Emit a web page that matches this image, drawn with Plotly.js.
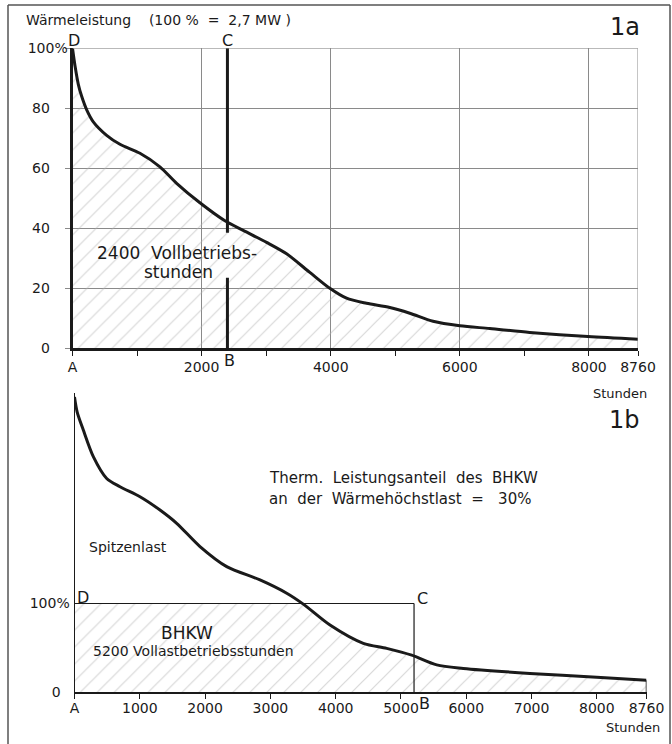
<!DOCTYPE html>
<html><head><meta charset="utf-8">
<script src="https://cdn.plot.ly/plotly-3.0.1.min.js"></script>
<style>html,body{margin:0;padding:0;background:#fff}#chart{width:672px;height:744px}</style>
</head><body><div id="chart"></div>
<script>
// Jahresdauerlinie der Wärmeleistung, % der Wärmehöchstlast (100 % = 2,7 MW)
// Bild 1a
const hours1a = [0, 40, 90, 142, 220, 322, 529, 735, 1045, 1354, 1613, 1974, 2361, 2644, 3006, 3316, 3676, 3986, 4245, 4554, 4915, 5225, 5585, 6000, 6463, 7082, 7985, 8760];
const load1a  = [100, 94, 88, 84, 79.5, 75.5, 71, 68, 65, 60.5, 55, 48.5, 42.5, 39.3, 35.3, 31.5, 25.3, 20, 16.7, 15, 13.6, 11.7, 9, 7.5, 6.6, 5.3, 3.9, 3.0];
// Bild 1b
const hours1b = [0, 40, 135, 288, 493, 697, 1003, 1309, 1565, 1922, 2331, 2841, 3250, 3504, 3913, 4423, 4781, 5164, 5547, 5954, 6975, 7997, 8760];
const load1b  = [100, 95, 88.8, 79.8, 72.4, 69.6, 66.2, 61.7, 57.2, 49.3, 42.5, 38, 33.5, 29.8, 22.7, 16.5, 14.8, 12.5, 9.2, 8, 6.3, 5, 4];

const fullLoadHours = 2400;   // Bild 1a: Vollbetriebsstunden
const bhkwShare = 30;         // Bild 1b: therm. Leistungsanteil des BHKW, % der Höchstlast
const bhkwHours = 5200;       // Bild 1b: Vollastbetriebsstunden

const xTicks1a = [0, 2000, 4000, 6000, 8000, 8760];
const xTickText1a = ['A', '2000', '4000', '6000', '8000', '8760'];
const yTicks1a = [0, 20, 40, 60, 80, 100];
const yTickText1a = ['0\u2007\u2007', '20\u2007\u2007', '40\u2007\u2007', '60\u2007\u2007', '80\u2007\u2007', '100%'];
const xTicks1b = [0, 1000, 2000, 3000, 4000, 5000, 6000, 7000, 8000, 8760];
const xTickText1b = ['A', '1000', '2000', '3000', '4000', '5000', '6000', '7000', '8000', '8760'];
const yTicks1b = [0, bhkwShare];
const yTickText1b = ['0\u2007', '100%'];

// hatched BHKW area in 1b: load clipped at the BHKW share
const clipX = [], clipY = [];
for (let i = 0; i < hours1b.length; i++) {
  if (i > 0) {
    const a = load1b[i-1] - bhkwShare, b = load1b[i] - bhkwShare;
    if (a * b < 0) {
      const t = a / (a - b);
      clipX.push(hours1b[i-1] + t * (hours1b[i] - hours1b[i-1]));
      clipY.push(bhkwShare);
    }
  }
  clipX.push(hours1b[i]);
  clipY.push(Math.min(load1b[i], bhkwShare));
}
const lastH = hours1b[hours1b.length-1], lastL = load1b[load1b.length-1];
const endH = hours1a[hours1a.length-1];

const W = 672, H = 744;
const px = x => x / W, py = y => 1 - y / H;
const FONT = 'DejaVu Sans';
const INK = '#1a1a1a';
const hatch = {shape: '/', size: 12, solidity: 0.1, fgcolor: '#b0b0b0', bgcolor: 'rgba(0,0,0,0)', fillmode: 'overlay'};

const traces = [
  {x: hours1a, y: load1a, xaxis: 'x', yaxis: 'y', mode: 'lines', fill: 'tozeroy', fillcolor: 'rgba(0,0,0,0)',
   fillpattern: hatch, line: {color: INK, width: 3, shape: 'spline', smoothing: 0.8}, hoverinfo: 'skip'},
  {x: clipX, y: clipY, xaxis: 'x2', yaxis: 'y2', mode: 'lines', fill: 'tozeroy', fillcolor: 'rgba(0,0,0,0)',
   fillpattern: hatch, line: {width: 0, color: 'rgba(0,0,0,0)'}, hoverinfo: 'skip'},
  {x: hours1b, y: load1b, xaxis: 'x2', yaxis: 'y2', mode: 'lines',
   line: {color: INK, width: 3, shape: 'spline', smoothing: 0.8}, hoverinfo: 'skip'},
  {x: [lastH, lastH], y: [0, lastL], xaxis: 'x2', yaxis: 'y2', mode: 'lines',
   line: {color: INK, width: 1.5}, hoverinfo: 'skip'}
];

function ann(text, x, y, size, opts) {
  return Object.assign({text: text, x: px(x), y: py(y), xref: 'paper', yref: 'paper', showarrow: false,
    xanchor: 'center', yanchor: 'middle', font: {family: FONT, size: size, color: INK}}, opts || {});
}
function dataAnn(text, x, xref, y, size, xshift) {
  return {text: text, x: x, xref: xref, xshift: xshift || 0, y: py(y), yref: 'paper', showarrow: false,
    xanchor: 'center', yanchor: 'middle', font: {family: FONT, size: size, color: INK}};
}

const annotations = [
  ann('Wärmeleistung    (100 %  =  2,7 MW )', 24, 20, 14, {xanchor: 'left'}),
  ann('1a', 625, 27, 24),
  ann('D', 74, 41, 16),
  dataAnn('C', fullLoadHours, 'x', 41, 16, 0),
  ann('2400  Vollbetriebs-', 177, 253, 17),
  ann('stunden', 178, 272, 17),
  dataAnn('B', fullLoadHours, 'x', 360, 16, 2),
  ann('Stunden', 620, 393, 13),
  ann('1b', 624, 420, 24),
  ann('Therm.  Leistungsanteil  des  BHKW', 267, 478, 15, {xanchor: 'left'}),
  ann('an  der  Wärmehöchstlast  =   30%', 267, 499, 15, {xanchor: 'left'}),
  ann('Spitzenlast', 87, 547, 14, {xanchor: 'left'}),
  ann('D', 83, 597, 16),
  dataAnn('C', bhkwHours, 'x2', 598, 16, 8),
  ann('BHKW', 187, 633, 17),
  ann('5200 Vollastbetriebsstunden', 193, 651, 14),
  dataAnn('B', bhkwHours, 'x2', 703, 16, 10),
  ann('Stunden', 633, 727, 13)
];

const GRID = '#8a8a8a';
const shapes = [
  // frame
  {type: 'line', xref: 'paper', yref: 'paper', x0: px(8), x1: px(670), y0: py(5), y1: py(5), line: {color: '#555', width: 1.5}},
  {type: 'line', xref: 'paper', yref: 'paper', x0: px(8), x1: px(8), y0: py(5), y1: 0, line: {color: '#555', width: 1.5}},
  {type: 'line', xref: 'paper', yref: 'paper', x0: px(670), x1: px(670), y0: py(5), y1: 0, line: {color: '#555', width: 1.5}},
  // 1a border top / right
  {type: 'line', xref: 'x', yref: 'y', x0: 0, x1: endH, y0: 100, y1: 100, line: {color: GRID, width: 1}},
  {type: 'line', xref: 'x', yref: 'y', x0: endH, x1: endH, y0: 0, y1: 100, line: {color: GRID, width: 1}},
  // 1a line C-B (broken by the text)
  {type: 'line', xref: 'x', yref: 'y', x0: fullLoadHours, x1: fullLoadHours, y0: 38.5, y1: 100, line: {color: INK, width: 3}},
  {type: 'line', xref: 'x', yref: 'y', x0: fullLoadHours, x1: fullLoadHours, y0: 0, y1: 23.5, line: {color: INK, width: 3}},
  // 1b rectangle D-C-B
  {type: 'line', xref: 'x2', yref: 'y2', x0: 0, x1: bhkwHours, y0: bhkwShare, y1: bhkwShare, line: {color: INK, width: 1.2}},
  {type: 'line', xref: 'x2', yref: 'y2', x0: bhkwHours, x1: bhkwHours, y0: 0, y1: bhkwShare, line: {color: INK, width: 1.2}}
];

const tickFont = {family: FONT, size: 14, color: INK};
const layout = {
  width: W, height: H, margin: {l: 0, r: 0, t: 0, b: 0},
  paper_bgcolor: '#fff', plot_bgcolor: 'rgba(0,0,0,0)', showlegend: false,
  font: {family: FONT, color: INK},
  xaxis: {domain: [72.5/W, 638/W], anchor: 'y', range: [0, 8760], tickvals: xTicks1a, ticktext: xTickText1a,
    showgrid: true, gridcolor: GRID, gridwidth: 1, zeroline: false, showline: true, linecolor: INK, linewidth: 3,
    ticks: 'outside', ticklen: 5, tickcolor: INK, tickfont: tickFont, ticklabelstandoff: -1,
    minor: {dtick: 1000, tick0: 0, ticks: 'outside', ticklen: 5, tickcolor: INK, showgrid: false}},
  yaxis: {domain: [(H-348.3)/H, (H-48.3)/H], anchor: 'x', range: [0, 100], tickvals: yTicks1a, ticktext: yTickText1a,
    showgrid: true, gridcolor: GRID, gridwidth: 1, zeroline: false, showline: true, linecolor: INK, linewidth: 3,
    ticks: 'outside', ticklen: 5, tickcolor: GRID, tickfont: tickFont, ticklabelstandoff: -6},
  xaxis2: {domain: [74.5/W, 646.5/W], anchor: 'y2', range: [0, 8760], tickvals: xTicks1b, ticktext: xTickText1b,
    showgrid: false, zeroline: false, showline: true, linecolor: INK, linewidth: 1.5,
    ticks: 'outside', ticklen: 5, tickcolor: INK, tickfont: tickFont, ticklabelstandoff: -2},
  yaxis2: {domain: [52/H, (H-392.6)/H], anchor: 'x2', range: [0, 101.5], tickvals: yTicks1b, ticktext: yTickText1b,
    showgrid: false, zeroline: false, showline: true, linecolor: INK, linewidth: 1,
    ticks: '', tickfont: tickFont, ticklabelstandoff: 1},
  annotations: annotations,
  shapes: shapes
};

Plotly.newPlot('chart', traces, layout, {displayModeBar: false, staticPlot: true});
</script>
</body></html>
